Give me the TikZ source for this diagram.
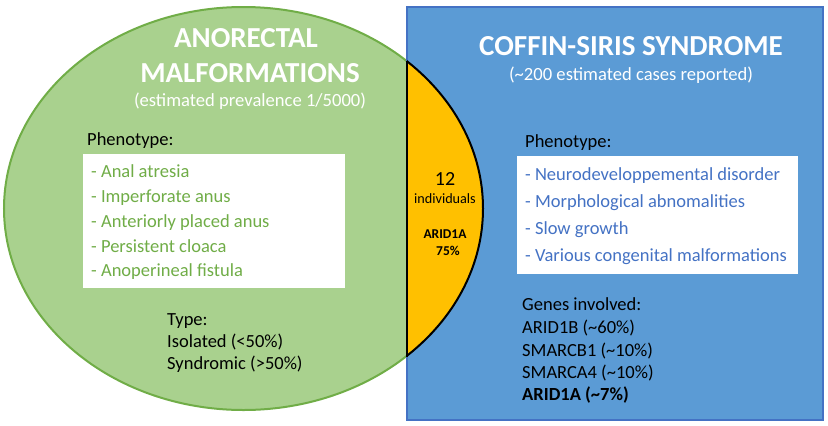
\documentclass[tikz,border=0pt]{standalone}
\usepackage{fontspec}
\setmainfont{Carlito}
\definecolor{gfill}{HTML}{A9D18E}
\definecolor{gline}{HTML}{70AD47}
\definecolor{bfill}{HTML}{5B9BD5}
\definecolor{bline}{HTML}{4472C4}
\definecolor{lensy}{HTML}{FFC000}
\tikzset{
  title/.style={text=white, font=\fontsize{29}{32}\selectfont\bfseries, anchor=base, inner sep=0pt},
  subtitle/.style={text=white, font=\fontsize{18.6}{21}\selectfont, anchor=base, inner sep=0pt},
  body/.style={text=black, font=\fontsize{18.5}{21}\selectfont, anchor=base west, inner sep=0pt},
  gitem/.style={body, text=gline},
  bitem/.style={body, text=bline},
  lens/.style={text=black, anchor=base, inner sep=0pt},
  listbox/.style={fill=white, draw=none}
}
\begin{document}
\begin{tikzpicture}[x=1pt, y=-1pt]
\useasboundingbox (0,0) rectangle (828,426);
% ellipse
\draw[fill=gfill, draw=gline, line width=2pt] (243.5,208.5) ellipse [x radius=239.5pt, y radius=201.5pt];
% rectangle
\draw[fill=bfill, draw=bline, line width=2.5pt] (407,7) rectangle (823,420);
% lens
\begin{scope}
\clip (407,0) rectangle (828,426);
\draw[fill=lensy, draw=black, line width=2pt] (243.5,208.5) ellipse [x radius=239.5pt, y radius=201.5pt];
\end{scope}
\coordinate (lt) at (407,60.5);
\coordinate (lb) at (407,356.5);
\draw[black, line width=2pt] (lt) -- (lb);

% left texts
\node[title] (t1) at (246,47) {ANORECTAL};
\node[title] (t2) at (250,82) {MALFORMATIONS};
\node[subtitle] (t3) at (250,106) {(estimated prevalence 1/5000)};
\node[body] (ph1) at (87,145) {Phenotype:};
\path[listbox] (83,154) rectangle (345,288);
\node[gitem] (a1) at (91,177) {- Anal atresia};
\node[gitem] (a2) at (91,202) {- Imperforate anus};
\node[gitem] (a3) at (91,227) {- Anteriorly placed anus};
\node[gitem] (a4) at (91,252) {- Persistent cloaca};
\node[gitem] (a5) at (91,276) {- Anoperineal fistula};
\node[body] (ty1) at (167,325) {Type:};
\node[body] (ty2) at (167,347) {Isolated (<50\%)};
\node[body] (ty3) at (167,369) {Syndromic (>50\%)};

% right texts
\node[title] (r1) at (631,55) {COFFIN-SIRIS SYNDROME};
\node[subtitle] (r2) at (631,80) {(\textasciitilde200 estimated cases reported)};
\node[body] (ph2) at (525,147) {Phenotype:};
\path[listbox] (517,156) rectangle (798,274);
\node[bitem] (b1) at (525,180) {- Neurodeveloppemental disorder};
\node[bitem] (b2) at (525,207) {- Morphological abnomalities};
\node[bitem] (b3) at (525,234) {- Slow growth};
\node[bitem] (b4) at (525,261) {- Various congenital malformations};
\node[body] (g0) at (522,310) {Genes involved:};
\node[body] (g1) at (522,333) {ARID1B (\textasciitilde60\%)};
\node[body] (g2) at (522,356) {SMARCB1 (\textasciitilde10\%)};
\node[body] (g3) at (522,378) {SMARCA4 (\textasciitilde10\%)};
\node[body, font=\fontsize{18.5}{21}\selectfont\bfseries] (g4) at (522,400) {ARID1A (\textasciitilde7\%)};

% lens texts
\node[lens, font=\fontsize{20}{22}\selectfont] (l1) at (445,185) {12};
\node[lens, font=\fontsize{14.2}{16}\selectfont] (l2) at (445,203) {individuals};
\node[lens, font=\fontsize{13.5}{15}\selectfont\bfseries] (l3) at (445,238) {ARID1A};
\node[lens, font=\fontsize{13.5}{15}\selectfont\bfseries] (l4) at (448,255) {75\%};
\end{tikzpicture}
\end{document}
